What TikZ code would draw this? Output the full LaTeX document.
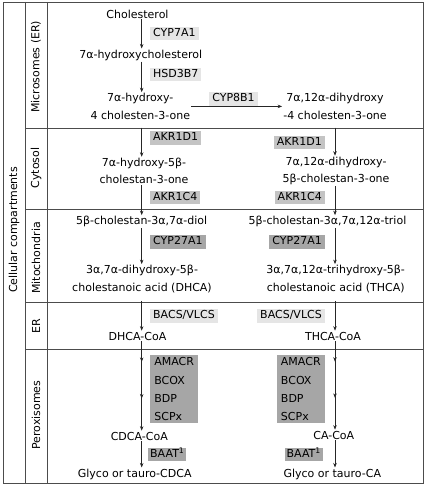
\documentclass[tikz,border=0pt]{standalone}
\usepackage{fontspec}
\setmainfont{DejaVu Sans}
\usetikzlibrary{arrows.meta,decorations.markings}

\begin{document}
\begin{tikzpicture}[x=1pt, y=-1pt,
  every node/.style={font=\fontsize{11}{17.5}\selectfont},
  cmpd/.style={align=center, inner sep=1pt},
  enz/.style={inner xsep=3pt, inner ysep=1.5pt, text height=8pt, text depth=2.5pt},
  enzA/.style={enz, fill=black!10},
  enzB/.style={enz, fill=black!23},
  enzC/.style={enz, fill=black!35},
  perox/.style={fill=black!35, align=left, inner xsep=2pt, inner ysep=0pt, anchor=north west,
    minimum width=48pt, minimum height=68pt, font=\fontsize{11}{18.3}\selectfont},
  frame/.style={draw=black!70, line width=0.8pt},
  lbl/.style={rotate=90},
  arr/.style={-{Stealth[length=4.5pt,width=3.5pt]}, line width=0.6pt, black!85},
  perarr/.style={arr, postaction={decorate}, decoration={markings,
    mark=at position 0.23 with {\arrow{Stealth[length=4.5pt,width=3.5pt]}},
    mark=at position 0.64 with {\arrow{Stealth[length=4.5pt,width=3.5pt]}}}}]
  \useasboundingbox (0,0) rectangle (425,486);
  % compartments
  \draw[frame] (3,2) rectangle (423,483);
  \draw[frame] (25,2) -- (25,483) (47,2) -- (47,483);
  \foreach \y in {128,209.3,302.7,349.3}
    \draw[frame] (25,\y) -- (423,\y);
  \node[lbl] (cell) at (14,230) {Cellular compartments};
  \node[lbl] (micro) at (36,66.7) {Microsomes (ER)};
  \node[lbl] (cyto) at (36,168) {Cytosol};
  \node[lbl] (mito) at (36,258) {Mitochondria};
  \node[lbl] (er) at (36,326) {ER};
  \node[lbl] (pero) at (36,415) {Peroxisomes};
  \coordinate (colL) at (141.7,0);
  \coordinate (colR) at (335,0);
  % compounds
  \node[cmpd] (chol) at (137.5,14) {Cholesterol};
  \node[cmpd] (hchol) at (140.7,55) {7α-hydroxycholesterol};
  \node[cmpd] (hyd4) at (140.3,106.4) {7α-hydroxy-\\4 cholesten-3-one};
  \node[cmpd] (dih4) at (335,106.4) {7α,12α-dihydroxy\\-4 cholesten-3-one};
  \node[cmpd] (hb5) at (144,171) {7α-hydroxy-5β-\\cholestan-3-one};
  \node[cmpd] (dhb5) at (336,171) {7α,12α-dihydroxy-\\5β-cholestan-3-one};
  \node[cmpd] (diol) at (141.7,221.7) {5β-cholestan-3α,7α-diol};
  \node[cmpd] (triol) at (327.5,221.7) {5β-cholestan-3α,7α,12α-triol};
  \node[cmpd] (dhca) at (142,279) {3α,7α-dihydroxy-5β-\\cholestanoic acid (DHCA)};
  \node[cmpd] (thca) at (335.7,279) {3α,7α,12α-trihydroxy-5β-\\cholestanoic acid (THCA)};
  \node[cmpd] (dhcacoa) at (137.5,336) {DHCA-CoA};
  \node[cmpd] (thcacoa) at (333,336) {THCA-CoA};
  \node[cmpd] (cdcacoa) at (139.3,436) {CDCA-CoA};
  \node[cmpd] (cacoa) at (333.8,435) {CA-CoA};
  \node[cmpd] (gcdca) at (134.7,474) {Glyco or tauro-CDCA};
  \node[cmpd] (gca) at (332.3,474) {Glyco or tauro-CA};
  % enzymes
  \node[enzA, anchor=west] (cyp7a1) at (150,33.5) {CYP7A1};
  \node[enzA, anchor=west] (hsd3b7) at (150,74.5) {HSD3B7};
  \node[enzA] (cyp8b1) at (233.5,99) {CYP8B1};
  \node[enzB, anchor=west] (akrdL) at (150,138) {AKR1D1};
  \node[enzB, anchor=east] (akrdR) at (325,142.5) {AKR1D1};
  \node[enzB, anchor=west] (akrcL) at (150,197.5) {AKR1C4};
  \node[enzB, anchor=east] (akrcR) at (325,197.5) {AKR1C4};
  \node[enzC, anchor=west] (cyp27L) at (150,242) {CYP27A1};
  \node[enzC, anchor=east] (cyp27R) at (325,242) {CYP27A1};
  \node[enzA, anchor=west] (bacsL) at (150,316) {BACS/VLCS};
  \node[enzA, anchor=east] (bacsR) at (325,316) {BACS/VLCS};
  \node[perox] (peroxL) at (150,355) {AMACR\\BCOX\\BDP\\SCPx};
  \node[perox, anchor=north east] (peroxR) at (325,355) {AMACR\\BCOX\\BDP\\SCPx};
  \node[enzC, inner xsep=2pt, anchor=west] (baatL) at (148,454.7) {BAAT\textsuperscript{1}};
  \node[enzC, inner xsep=2pt, anchor=east] (baatR) at (323,454.5) {BAAT\textsuperscript{1}};
  % reactions
  \draw[arr] (chol.south -| colL) -- (hchol.north -| colL);
  \draw[arr] (hchol.south -| colL) -- (hyd4.north -| colL);
  \draw[arr] (hyd4.east) -- (dih4.west);
  \draw[arr, shorten <=7pt] (hyd4.south -| colL) -- (hb5.north -| colL);
  \draw[arr, shorten <=7pt] (dih4.south -| colR) -- (dhb5.north -| colR);
  \draw[arr] (hb5.south -| colL) -- (diol.north -| colL);
  \draw[arr] (dhb5.south -| colR) -- (triol.north -| colR);
  \draw[arr] (diol.south -| colL) -- (dhca.north -| colL);
  \draw[arr] (triol.south -| colR) -- (thca.north -| colR);
  \draw[arr, shorten <=7pt] (dhca.south -| colL) -- (dhcacoa.north -| colL);
  \draw[arr, shorten <=7pt] (thca.south -| colR) -- (thcacoa.north -| colR);
  \draw[perarr] (dhcacoa.south -| colL) -- (cdcacoa.north -| colL);
  \draw[perarr] (thcacoa.south -| colR) -- (cacoa.north -| colR);
  \draw[arr] (cdcacoa.south -| colL) -- (gcdca.north -| colL);
  \draw[arr] (cacoa.south -| colR) -- (gca.north -| colR);
\end{tikzpicture}
\end{document}
